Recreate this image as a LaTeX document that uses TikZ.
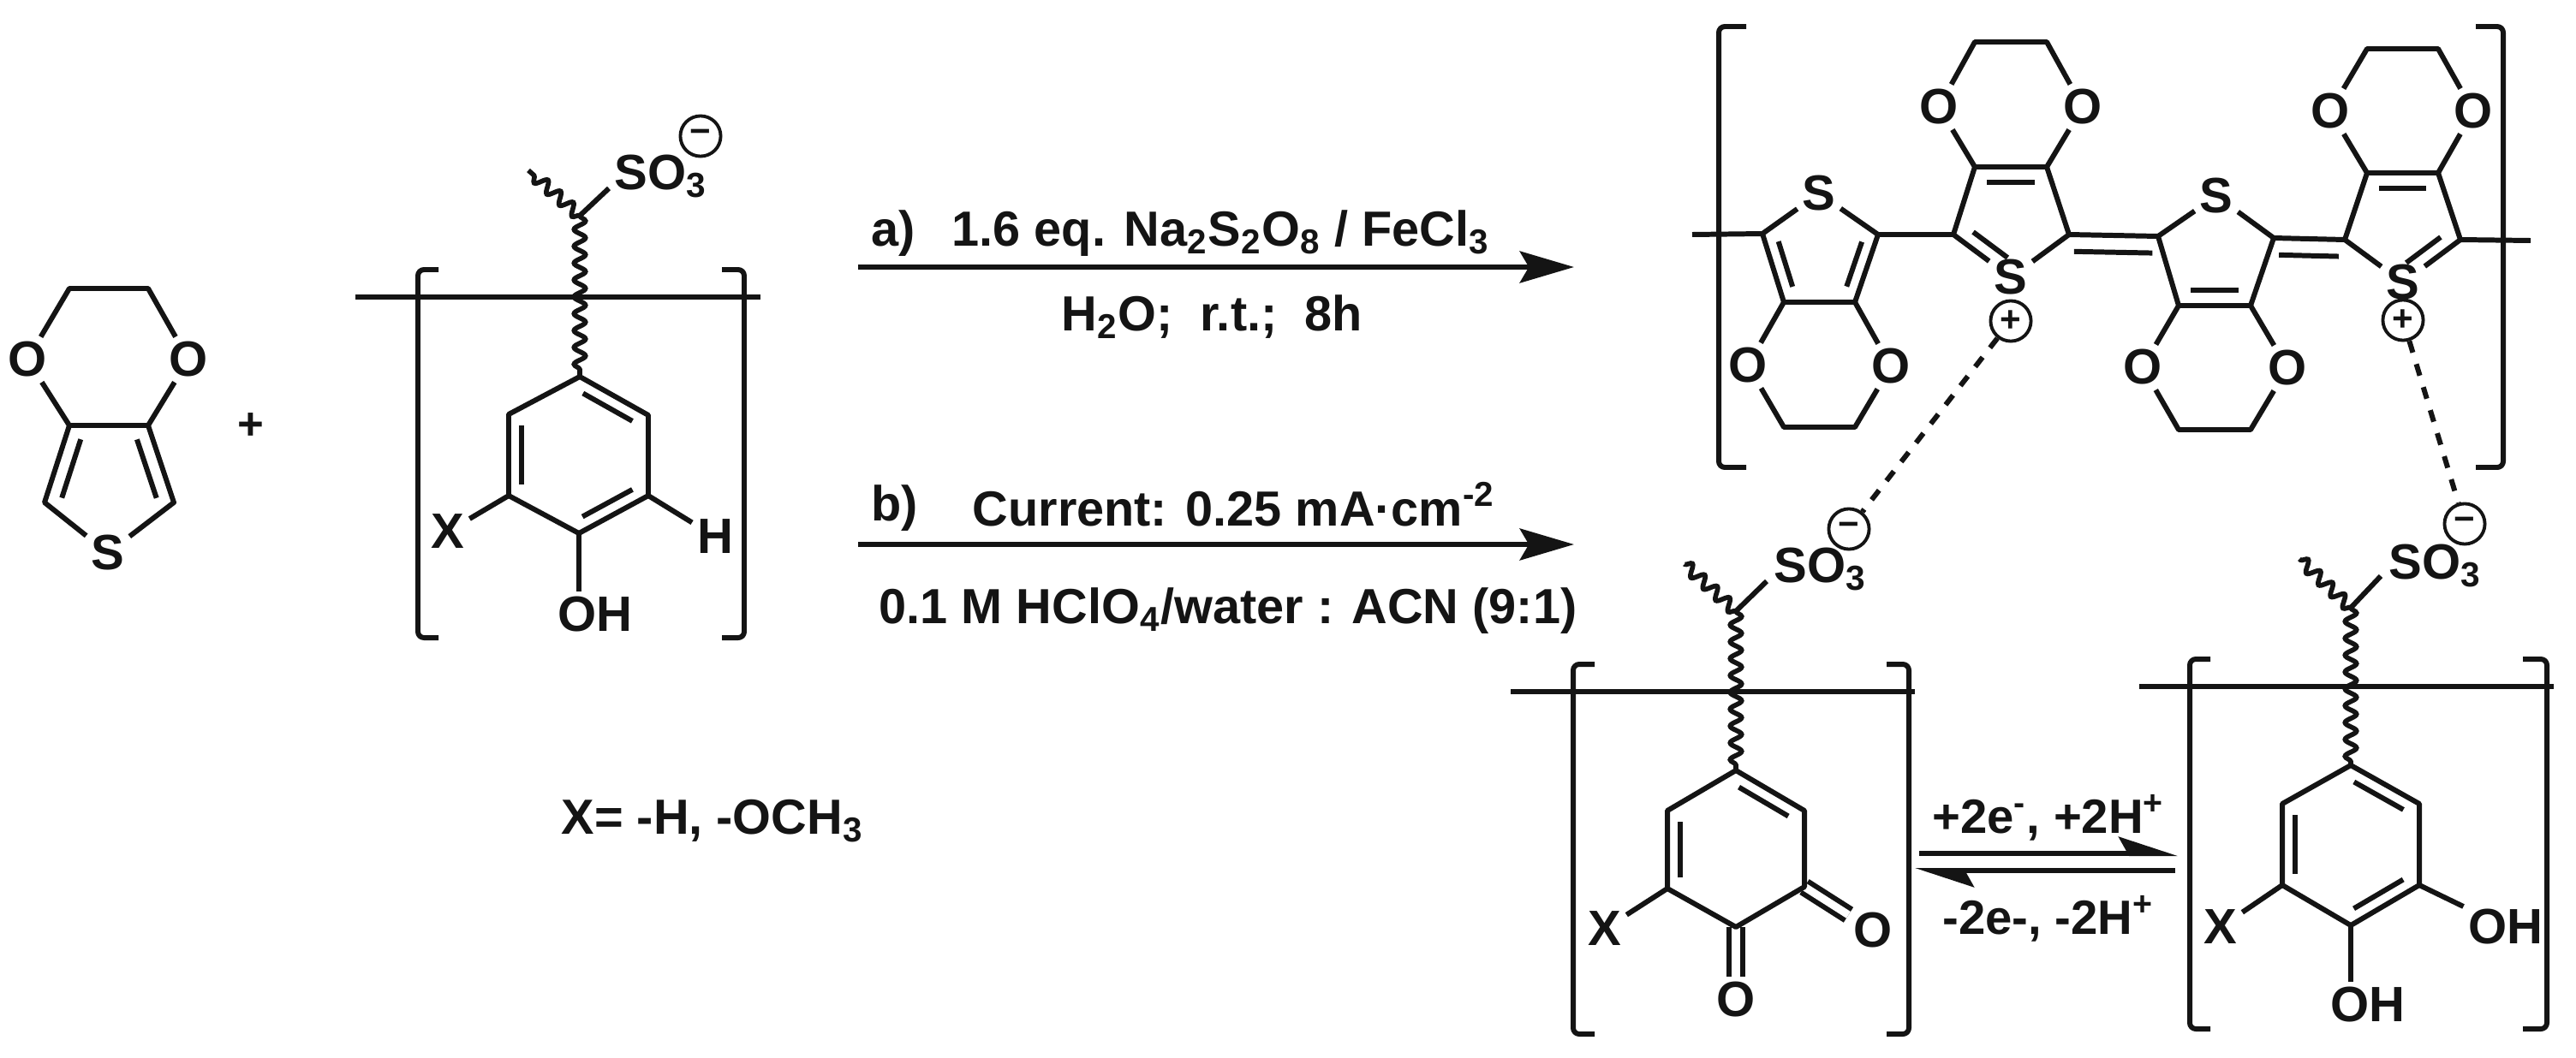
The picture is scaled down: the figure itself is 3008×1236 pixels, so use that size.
\documentclass[tikz,border=0pt]{standalone}
\usepackage{fontspec}
\setmainfont{Liberation Sans}
\usetikzlibrary{
    arrows.meta,
    calc,
    decorations.pathmorphing
}
\definecolor{inkblack}{RGB}{20, 20, 20}
% inner stroke of a double bond, on the right of #2 -> #3
\newcommand{\dbl}[4][.14]{\draw[bond] ($(#2)!#1!(#3)!#4!-90:(#3)$) -- ($(#3)!#1!(#2)!#4!90:(#2)$);}

\begin{document}
\begin{tikzpicture}[
        x=0.01cm, y=-0.01cm,
        bond/.style={draw=inkblack, line width=1.7pt, line join=round},
        dblbond/.style={bond, double, double distance=2.6pt},
        wavy/.style={draw=inkblack, line width=1.6pt, decorate, decoration={snake, segment length=5.6pt, amplitude=1.9pt}},
        bracket/.style={bond, rounded corners=2pt},
        ionpair/.style={bond, dashed, dash pattern=on 4pt off 4pt},
        atom/.style={inner sep=1.5pt, text=inkblack, font=\fontsize{16.5}{20}\selectfont\bfseries},
        charge/.style={circle, draw=inkblack, line width=1.1pt, inner sep=0pt, minimum size=13.4pt, text=inkblack, font=\fontsize{12}{12}\selectfont\bfseries},
        cond/.style={anchor=base west, inner sep=0pt, text=inkblack, font=\fontsize{16.4}{19}\selectfont\bfseries},
        rxnarrow/.style={draw=inkblack, line width=1.7pt, -{Stealth[length=18pt, width=10.5pt, inset=3pt]}},
        eqarrow/.style={draw=inkblack, line width=1.7pt, -{Stealth[harpoon, length=17pt, width=11pt, inset=3pt]}}
    ]
        \useasboundingbox (0,0) rectangle (3008,1236);

        % EDOT monomer
        \node[atom] (e_o1) at (32,420) {O};
        \node[atom] (e_o2) at (220,420) {O};
        \node[atom] (e_s) at (126,646) {S};
        \coordinate (e_t1) at (81,337);
        \coordinate (e_t2) at (173,337);
        \coordinate (e_c1) at (81,497);
        \coordinate (e_c2) at (173,497);
        \coordinate (e_c3) at (203,587);
        \coordinate (e_c4) at (52,587);
        \draw[bond] (e_o1) -- (e_t1) -- (e_t2) -- (e_o2) -- (e_c2) -- (e_c1) -- (e_o1);
        \draw[bond] (e_c1) -- (e_c4) -- (e_s) -- (e_c3) -- (e_c2);
        \dbl[.12]{e_c4}{e_c1}{5pt}
        \dbl[.12]{e_c2}{e_c3}{5pt}
        \node[atom, font=\fontsize{15}{15}\selectfont\bfseries] (plus) at (293,498) {+};

        % Sulfonated monomer
        \draw[bracket] (512,315) -- (488,315) -- (488,745) -- (512,745);
        \draw[bracket] (843,315) -- (869,315) -- (869,745) -- (843,745);
        \coordinate (m_l) at (415,347);
        \coordinate (m_r) at (888,347);
        \draw[bond] (m_l) -- (m_r);
        \coordinate (m_j) at (677,252);
        \coordinate (m_w) at (617,199);
        \coordinate (m_c1) at (677,440);
        \coordinate (m_c2) at (757,485);
        \coordinate (m_c3) at (757,579);
        \coordinate (m_c4) at (676,623);
        \coordinate (m_c5) at (594,579);
        \coordinate (m_c6) at (594,484);
        \node[atom, anchor=west, inner sep=0pt] (m_so) at (717,206) {SO\textsubscript{3}};
        \node[charge] (m_neg) at (818,159) {−};
        \node[atom] (m_x) at (523,621) {X};
        \node[atom] (m_h) at (835,627) {H};
        \node[atom] (m_oh) at (695,718) {OH};
        \draw[wavy] (m_j) -- (m_c1);
        \draw[wavy] (m_j) -- (m_w);
        \draw[bond] (m_j) -- (711,220);
        \draw[bond] (m_c1) -- (m_c2) -- (m_c3) -- (m_c4) -- (m_c5) -- (m_c6) -- cycle;
        \dbl{m_c1}{m_c2}{4.3pt}
        \dbl{m_c3}{m_c4}{4.3pt}
        \dbl{m_c5}{m_c6}{4.3pt}
        \draw[bond] (m_c5) -- (m_x);
        \draw[bond] (m_c3) -- (m_h);
        \draw[bond] (m_c4) -- (m_c4 |- m_oh.north);

        % Reaction arrows and conditions
        \coordinate (a_s) at (1002,312);
        \coordinate (a_e) at (1838,312);
        \coordinate (b_s) at (1002,636);
        \coordinate (b_e) at (1838,636);
        \draw[rxnarrow] (a_s) -- (a_e);
        \draw[rxnarrow] (b_s) -- (b_e);
        \node[cond] (a_lab) at (1017,287) {a)};
        \node[cond] (a_top) at (1111,287) {1.6 eq. Na\textsubscript{2}S\textsubscript{2}O\textsubscript{8} / FeCl\textsubscript{3}};
        \node[cond] (a_bot) at (1239,386) {H\textsubscript{2}O;\ \ r.t.;\ \ 8h};
        \node[cond] (b_lab) at (1017,608) {b)};
        \node[cond] (b_top) at (1135,614) {Current: 0.25 mA·cm\textsuperscript{-2}};
        \node[cond] (b_bot) at (1026,728) {0.1 M HClO\textsubscript{4}/water : ACN (9:1)};
        \node[cond] (x_def) at (655,974) {X= -H, -OCH\textsubscript{3}};

        % Polymer: brackets and chain ends
        \draw[bracket] (2039,31) -- (2007,31) -- (2007,546) -- (2039,546);
        \draw[bracket] (2891,31) -- (2923,31) -- (2923,546) -- (2891,546);
        \coordinate (p_l) at (1976,274);
        \coordinate (p_r) at (2955,281);

        % Polymer: first ring
        \node[atom] (a_s1) at (2124,226) {S};
        \node[atom] (a_o1) at (2041,427) {O};
        \node[atom] (a_o2) at (2208,428) {O};
        \coordinate (a_c1) at (2058,273);
        \coordinate (a_c2) at (2193,274);
        \coordinate (a_c3) at (2166,353);
        \coordinate (a_c4) at (2083,353);
        \coordinate (a_t1) at (2083,499);
        \coordinate (a_t2) at (2166,499);
        \draw[bond] (p_l) -- (a_c1) -- (a_s1) -- (a_c2) -- (a_c3) -- (a_c4) -- (a_c1);
        \draw[bond] (a_c4) -- (a_o1) -- (a_t1) -- (a_t2) -- (a_o2) -- (a_c3);
        \dbl[.17]{a_c2}{a_c3}{4.3pt}
        \dbl[.17]{a_c4}{a_c1}{4.3pt}

        % Polymer: second ring
        \node[atom] (b_s1) at (2348,324) {S};
        \node[charge] (b_pos) at (2348,375) {+};
        \node[atom] (b_o1) at (2264,125) {O};
        \node[atom] (b_o2) at (2432,125) {O};
        \coordinate (b_c1) at (2281,274);
        \coordinate (b_c2) at (2306,195);
        \coordinate (b_c3) at (2390,195);
        \coordinate (b_c4) at (2416,274);
        \coordinate (b_t1) at (2306,49);
        \coordinate (b_t2) at (2390,49);
        \draw[bond] (a_c2) -- (b_c1) -- (b_c2) -- (b_c3) -- (b_c4) -- (b_s1) -- (b_c1);
        \draw[bond] (b_c2) -- (b_o1) -- (b_t1) -- (b_t2) -- (b_o2) -- (b_c3);
        \dbl[.17]{b_c2}{b_c3}{5pt}
        \dbl[.2]{b_s1}{b_c1}{4.6pt}

        % Polymer: third ring
        \node[atom] (c_s1) at (2588,229) {S};
        \node[atom] (c_o1) at (2502,429) {O};
        \node[atom] (c_o2) at (2671,430) {O};
        \coordinate (c_c1) at (2520,276);
        \coordinate (c_c2) at (2655,278);
        \coordinate (c_c3) at (2628,357);
        \coordinate (c_c4) at (2544,357);
        \coordinate (c_t1) at (2544,502);
        \coordinate (c_t2) at (2628,502);
        \draw[bond] (b_c4) -- (c_c1) -- (c_s1) -- (c_c2) -- (c_c3) -- (c_c4) -- (c_c1);
        \draw[bond] (c_c4) -- (c_o1) -- (c_t1) -- (c_t2) -- (c_o2) -- (c_c3);
        \dbl[.06]{b_c4}{c_c1}{5.6pt}
        \dbl[.17]{c_c3}{c_c4}{5pt}

        % Polymer: fourth ring
        \node[atom] (d_s1) at (2806,330) {S};
        \node[charge] (d_pos) at (2806,374) {+};
        \node[atom] (d_o1) at (2721,130) {O};
        \node[atom] (d_o2) at (2888,130) {O};
        \coordinate (d_c1) at (2738,280);
        \coordinate (d_c2) at (2764,202);
        \coordinate (d_c3) at (2847,202);
        \coordinate (d_c4) at (2873,280);
        \coordinate (d_t1) at (2764,57);
        \coordinate (d_t2) at (2847,57);
        \draw[bond] (c_c2) -- (d_c1) -- (d_c2) -- (d_c3) -- (d_c4) -- (d_s1) -- (d_c1);
        \draw[bond] (d_c4) -- (p_r);
        \draw[bond] (d_c2) -- (d_o1) -- (d_t1) -- (d_t2) -- (d_o2) -- (d_c3);
        \dbl[.17]{d_c2}{d_c3}{5pt}
        \dbl[.08]{c_c2}{d_c1}{5.6pt}
        \dbl[.2]{d_c4}{d_s1}{4.6pt}

        % Quinone unit
        \draw[bracket] (1862,776) -- (1837,776) -- (1837,1208) -- (1862,1208);
        \draw[bracket] (2203,776) -- (2229,776) -- (2229,1208) -- (2203,1208);
        \coordinate (q_l) at (1764,808);
        \coordinate (q_r) at (2236,808);
        \draw[bond] (q_l) -- (q_r);
        \coordinate (q_j) at (2027,714);
        \coordinate (q_w) at (1967,659);
        \coordinate (q_c1) at (2027,900);
        \coordinate (q_c2) at (2107,947);
        \coordinate (q_c3) at (2107,1036);
        \coordinate (q_c4) at (2027,1083);
        \coordinate (q_c5) at (1947,1038);
        \coordinate (q_c6) at (1947,947);
        \node[atom, anchor=west, inner sep=0pt] (q_so) at (2071,665) {SO\textsubscript{3}};
        \node[charge] (q_neg) at (2159,618) {−};
        \node[atom] (q_x) at (1874,1085) {X};
        \node[atom] (q_o1) at (2187,1087) {O};
        \node[atom] (q_o2) at (2027,1168) {O};
        \draw[dblbond] (q_c3) -- (q_o1);
        \draw[dblbond] (q_c4) -- (q_o2);
        \draw[wavy] (q_j) -- (q_c1);
        \draw[wavy] (q_j) -- (q_w);
        \draw[bond] (q_j) -- (2063,679);
        \draw[bond] (q_c1) -- (q_c2) -- (q_c3) -- (q_c4) -- (q_c5) -- (q_c6) -- cycle;
        \dbl{q_c1}{q_c2}{4.3pt}
        \dbl{q_c5}{q_c6}{4.3pt}
        \draw[bond] (q_c5) -- (q_x);

        % Catechol unit
        \draw[bracket] (2581,770) -- (2557,770) -- (2557,1202) -- (2581,1202);
        \draw[bracket] (2946,770) -- (2974,770) -- (2974,1202) -- (2946,1202);
        \coordinate (h_l) at (2498,802);
        \coordinate (h_r) at (2982,802);
        \draw[bond] (h_l) -- (h_r);
        \coordinate (h_j) at (2745,710);
        \coordinate (h_w) at (2685,653);
        \coordinate (h_c1) at (2745,894);
        \coordinate (h_c2) at (2825,939);
        \coordinate (h_c3) at (2825,1034);
        \coordinate (h_c4) at (2745,1081);
        \coordinate (h_c5) at (2665,1034);
        \coordinate (h_c6) at (2665,939);
        \node[atom, anchor=west, inner sep=0pt] (h_so) at (2789,661) {SO\textsubscript{3}};
        \node[charge] (h_neg) at (2878,612) {−};
        \node[atom] (h_x) at (2593,1083) {X};
        \node[atom] (h_oh1) at (2926,1083) {OH};
        \node[atom] (h_oh2) at (2765,1174) {OH};
        \draw[wavy] (h_j) -- (h_c1);
        \draw[wavy] (h_j) -- (h_w);
        \draw[bond] (h_j) -- (2780,673);
        \draw[bond] (h_c1) -- (h_c2) -- (h_c3) -- (h_c4) -- (h_c5) -- (h_c6) -- cycle;
        \dbl{h_c1}{h_c2}{4.3pt}
        \dbl{h_c3}{h_c4}{4.3pt}
        \dbl{h_c5}{h_c6}{4.3pt}
        \draw[bond] (h_c5) -- (h_x);
        \draw[bond] (h_c3) -- (h_oh1);
        \draw[bond] (h_c4) -- (h_c4 |- h_oh2.north);

        % Ion pairs
        \draw[ionpair] (b_pos) -- (q_neg);
        \draw[ionpair] (d_pos) -- (h_neg);

        % Redox equilibrium
        \coordinate (eq_a) at (2241,997);
        \coordinate (eq_b) at (2543,997);
        \coordinate (eq_c) at (2540,1017);
        \coordinate (eq_d) at (2236,1017);
        \draw[eqarrow] (eq_a) -- (eq_b);
        \draw[eqarrow] (eq_c) -- (eq_d);
        \node[atom, font=\fontsize{16}{19}\selectfont\bfseries] (eq_top) at (2392,955) {+2e\textsuperscript{-}, +2H\textsuperscript{+}};
        \node[atom, font=\fontsize{16}{19}\selectfont\bfseries] (eq_bot) at (2392,1073) {-2e-, -2H\textsuperscript{+}};
    \end{tikzpicture}
\end{document}
